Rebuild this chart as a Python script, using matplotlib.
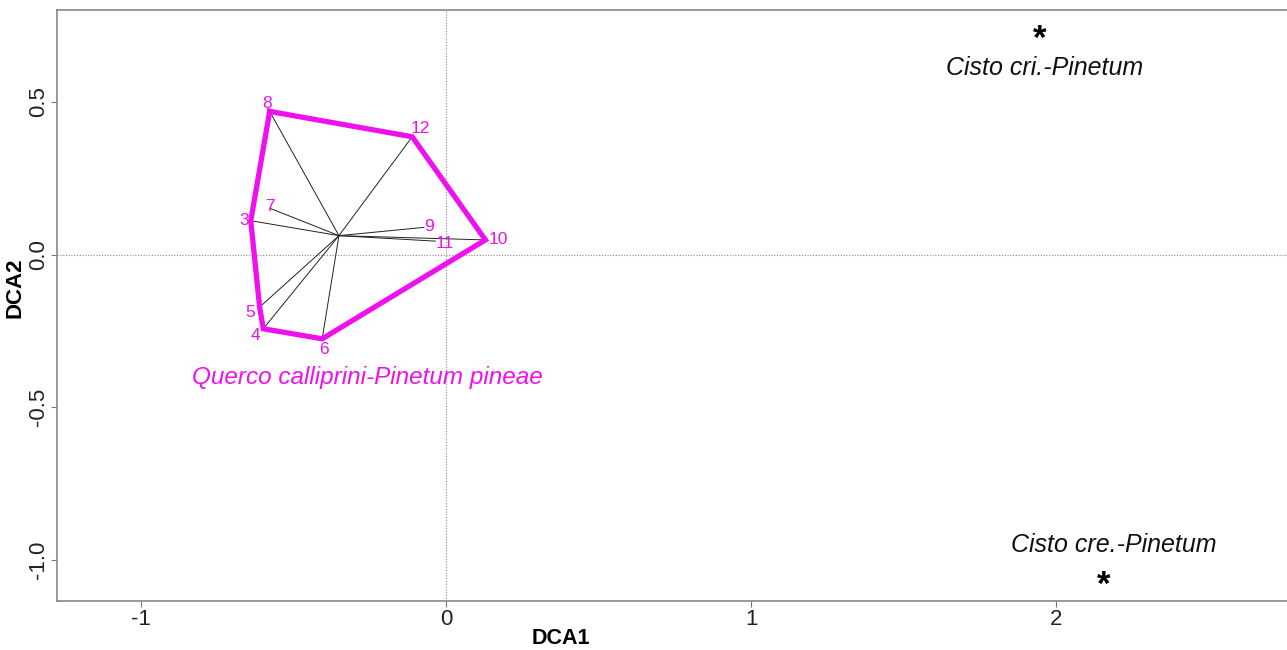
import matplotlib.pyplot as plt

plt.rcParams['font.family'] = ['Liberation Sans', 'DejaVu Sans']

# plot scores
plots = ['3', '4', '5', '6', '7', '8', '9', '10', '11', '12']
dca1 = [-0.640, -0.599, -0.611, -0.406, -0.578, -0.578, -0.073, 0.129, -0.035, -0.111]
dca2 = [0.111, -0.243, -0.172, -0.276, 0.152, 0.469, 0.089, 0.048, 0.044, 0.386]
centroid = (-0.351, 0.062)
hull_order = ['8', '12', '10', '6', '4', '5', '3', '8']

# label offsets (points) for the plot numbers
offsets = {'3': (-4.5, 0), '4': (-6, -5), '5': (-7, -4), '6': (1.5, -8), '7': (0, 1),
           '8': (-2, 6), '9': (4, 1), '10': (9, 0), '11': (7, -2), '12': (6, 6)}

# other associations
others = ['Cisto cri.-Pinetum', 'Cisto cre.-Pinetum']
others_x = [1.945, 2.154]
others_y = [0.723, -1.067]
others_lab_x = [1.962, 2.188]
others_lab_y = [0.6125, -0.95]

group_name = 'Querco calliprini-Pinetum pineae'
group_lab = (-0.259, -0.403)
magenta = '#ee11ee'

fig = plt.figure(figsize=(12.87, 6.5), dpi=100)
ax = fig.add_axes([0.0443, 0.0754, 0.9557, 0.9086])

ax.axhline(0, color='#888888', lw=0.8, ls=(0, (1, 1.5)), zorder=0)
ax.axvline(0, color='#888888', lw=0.8, ls=(0, (1, 1.5)), zorder=0)

# spider lines
for x, y in zip(dca1, dca2):
    ax.plot([centroid[0], x], [centroid[1], y], color='#222222', lw=0.7, zorder=2)

# hull
idx = {p: i for i, p in enumerate(plots)}
hx = [dca1[idx[p]] for p in hull_order]
hy = [dca2[idx[p]] for p in hull_order]
ax.plot(hx, hy, color=magenta, lw=3.8, solid_joinstyle='miter', zorder=3)

for p, x, y in zip(plots, dca1, dca2):
    ax.annotate(p, (x, y), xytext=offsets[p], textcoords='offset points',
                ha='center', va='center', color=magenta, fontsize=12.5, zorder=4)

ax.text(group_lab[0], group_lab[1], group_name, color=magenta, fontsize=17.5,
        style='italic', ha='center', va='center')

for name, x, y, lx, ly in zip(others, others_x, others_y, others_lab_x, others_lab_y):
    ax.annotate('*', (x, y), xytext=(0, -4), textcoords='offset points',
                fontsize=25, fontweight='bold', ha='center', va='center')
    ax.text(lx, ly, name, fontsize=18, style='italic', ha='center', va='center',
            color='#111111')

ax.set_xlim(-1.275, 2.756)
ax.set_ylim(-1.135, 0.80)
ax.set_xticks([-1, 0, 1, 2])
ax.set_xticklabels(['-1', '0', '1', '2'])
ax.set_yticks([-1.0, -0.5, 0.0, 0.5])
ax.set_yticklabels(['-1.0', '-0.5', '0.0', '0.5'], rotation=90, va='center')
ax.tick_params(labelsize=16, color='#777777', length=4, width=0.8, pad=2,
               labelcolor='#222222')
ax.set_xlabel('DCA1', fontsize=15.5, fontweight='bold')
ax.set_ylabel('DCA2', fontsize=16, fontweight='bold')
ax.xaxis.set_label_coords(0.41, -0.046)
ax.yaxis.set_label_coords(-0.026, 0.531)

for s in ['left', 'bottom', 'top']:
    ax.spines[s].set_color('#888888')
    ax.spines[s].set_linewidth(1.2)
ax.spines['right'].set_visible(False)

fig.savefig('out.png', dpi=100)
